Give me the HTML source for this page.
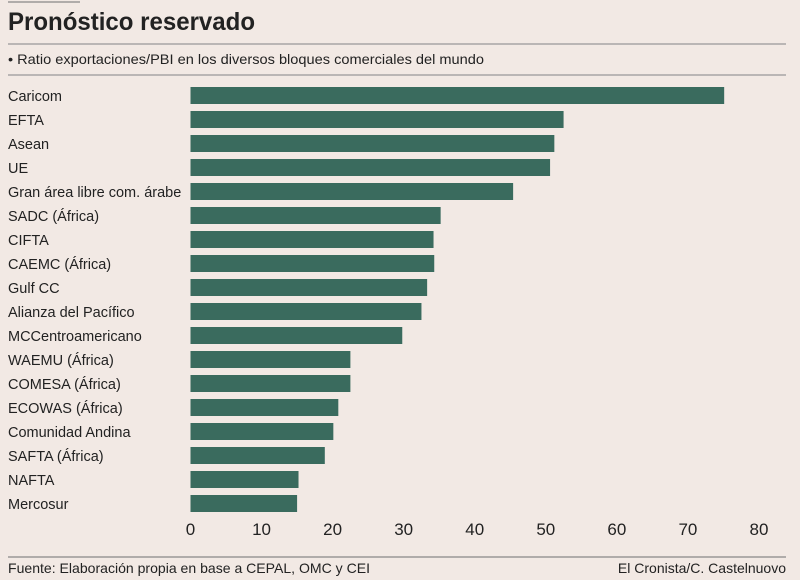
<!DOCTYPE html>
<html><head><meta charset="utf-8"><style>
html,body{margin:0;padding:0;background:#f2e9e4;}
svg{display:block;font-family:"Liberation Sans",sans-serif;}
</style></head><body>
<svg id="chart" width="800" height="580" viewBox="0 0 800 580">
<rect x="0" y="0" width="800" height="580" fill="#f2e9e4"/>
<line x1="8" y1="2" x2="80" y2="2" stroke="#888" stroke-width="1.2"/>
<text x="8" y="30" font-size="25" font-weight="bold" fill="#222" textLength="247" lengthAdjust="spacingAndGlyphs">Pronóstico reservado</text>
<line x1="8" y1="44" x2="786" y2="44" stroke="#999" stroke-width="1.3"/>
<text x="8" y="64" font-size="14" fill="#222" textLength="476" lengthAdjust="spacingAndGlyphs">• Ratio exportaciones/PBI en los diversos bloques comerciales del mundo</text>
<line x1="8" y1="75" x2="786" y2="75" stroke="#999" stroke-width="1.3"/>
<g id="bars"></g>
<g id="xaxis"></g>
<line x1="8" y1="557" x2="786" y2="557" stroke="#888" stroke-width="1.3"/>
<text x="8" y="573" font-size="14" fill="#222" textLength="362" lengthAdjust="spacingAndGlyphs">Fuente: Elaboración propia en base a CEPAL, OMC y CEI</text>
<text x="786" y="573" font-size="14" fill="#222" text-anchor="end">El Cronista/C. Castelnuovo</text>
</svg>
<script>
const categories = ["Caricom","EFTA","Asean","UE","Gran área libre com. árabe","SADC (África)","CIFTA","CAEMC (África)","Gulf CC","Alianza del Pacífico","MCCentroamericano","WAEMU (África)","COMESA (África)","ECOWAS (África)","Comunidad Andina","SAFTA (África)","NAFTA","Mercosur"];
const values = [75.1,52.5,51.2,50.6,45.4,35.2,34.2,34.3,33.3,32.5,29.8,22.5,22.5,20.8,20.1,18.9,15.2,15.0];
const tickValues = [0,10,20,30,40,50,60,70,80];
const NS = "http://www.w3.org/2000/svg";
const x0 = 190.5, x80 = 759;
function xScale(v){ return x0 + (x80 - x0) * v / 80; }
function yScale(i){ return 87 + i * 24; }
const barH = 17;
const gb = document.getElementById("bars");
categories.forEach((c, i) => {
  const t = document.createElementNS(NS, "text");
  t.setAttribute("x", 8);
  t.setAttribute("y", yScale(i) + 14);
  t.setAttribute("font-size", "14.5");
  t.setAttribute("fill", "#222");
  t.textContent = c;
  
  
  gb.appendChild(t);
  const r = document.createElementNS(NS, "rect");
  r.setAttribute("x", xScale(0));
  r.setAttribute("y", yScale(i));
  r.setAttribute("width", xScale(values[i]) - xScale(0));
  r.setAttribute("height", barH);
  r.setAttribute("fill", "#3a6b5e");
  
  
  gb.appendChild(r);
});
const gx = document.getElementById("xaxis");
tickValues.forEach(v => {
  const t = document.createElementNS(NS, "text");
  t.setAttribute("x", xScale(v));
  t.setAttribute("y", 535);
  t.setAttribute("font-size", "17");
  t.setAttribute("fill", "#222");
  t.setAttribute("text-anchor", "middle");
  t.textContent = v;
  
  
  gx.appendChild(t);
});
</script>
</body></html>
